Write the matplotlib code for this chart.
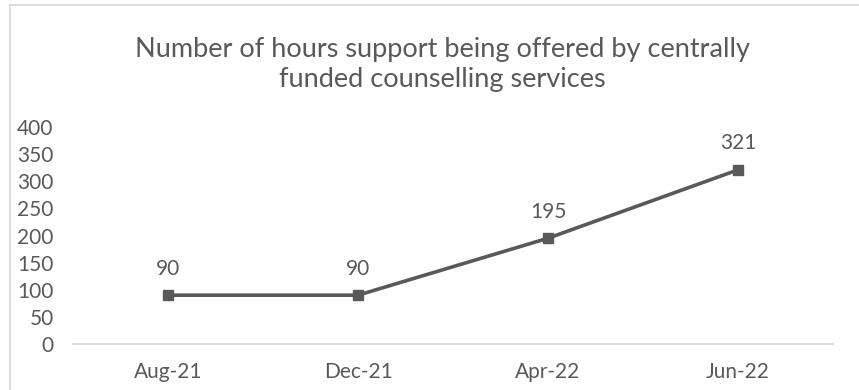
import numpy as np
import matplotlib.pyplot as plt
from matplotlib.lines import Line2D

plt.rcParams['font.family'] = ['Lato', 'DejaVu Sans']

months = ["Aug-21", "Dec-21", "Apr-22", "Jun-22"]
hours = [90, 90, 195, 321]
y_ticks = [0, 50, 100, 150, 200, 250, 300, 350, 400]

grey = "#595959"
light = "#d9d9d9"

fig = plt.figure(figsize=(8.59, 3.9), dpi=100)
ax = fig.add_axes([73 / 859, 46 / 390, 760 / 859, 217 / 390])

x = np.arange(len(months))
ax.plot(x, hours, color=grey, lw=2.6, marker="s", ms=6.5, solid_capstyle="butt")
for xi, v in zip(x, hours):
    ax.annotate(str(v), (xi, v), xytext=(0, 12), textcoords="offset points",
                ha="center", va="bottom", fontsize=15, color=grey)

ax.set_xlim(-0.5, len(months) - 0.5)
ax.set_ylim(0, 400)
ax.set_yticks(y_ticks)
ax.set_xticks(x)
ax.set_xticklabels(months)
ax.tick_params(axis="both", length=0, labelsize=15, colors=grey)
ax.tick_params(axis="y", pad=14)
ax.tick_params(axis="x", pad=13)
for s in ["top", "right", "left"]:
    ax.spines[s].set_visible(False)
ax.spines["bottom"].set_color(light)
ax.spines["bottom"].set_linewidth(1.3)

fig.text(0.515, 1 - 65 / 390, "Number of hours support being offered by centrally\nfunded counselling services",
         ha="center", va="center", fontsize=19.5, color=grey, linespacing=1.25)

# chart frame (top and left edges only visible)
fig.add_artist(Line2D([10 / 859, 1], [1 - 5 / 390, 1 - 5 / 390], color=light, lw=1.3, transform=fig.transFigure))
fig.add_artist(Line2D([10 / 859, 10 / 859], [0, 1 - 5 / 390], color=light, lw=1.3, transform=fig.transFigure))

fig.savefig("out.png", dpi=100)
